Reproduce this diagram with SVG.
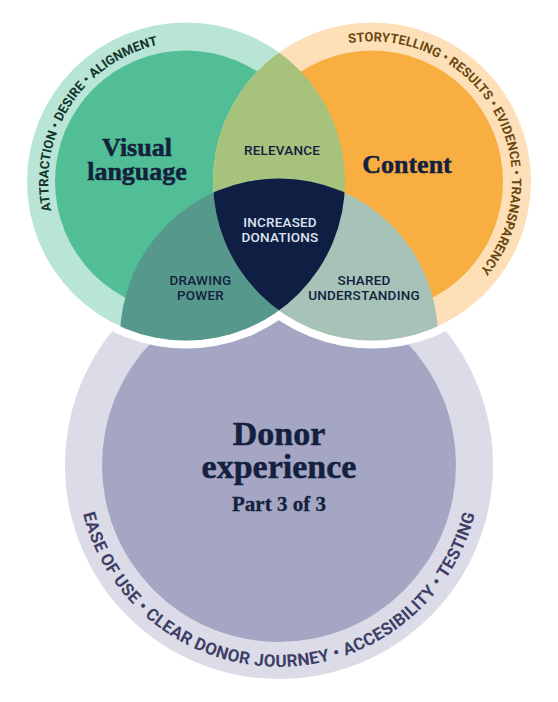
<svg xmlns="http://www.w3.org/2000/svg" width="558" height="702" viewBox="0 0 558 702">
<style>
.title{font-family:"Liberation Serif","Times New Roman",serif;font-weight:bold;fill:#13213f;stroke:#13213f;stroke-width:0.5px;text-anchor:middle}
.lbl{font-family:Roboto,"Liberation Sans",sans-serif;font-size:13.5px;font-weight:500;fill:#13213f;text-anchor:middle;letter-spacing:0.2px}
.ring{font-family:Roboto,"Liberation Sans",sans-serif;font-weight:bold;text-anchor:middle}
</style>
<defs>
<clipPath id="clipL"><circle cx="186" cy="181.5" r="159"/></clipPath>
<clipPath id="clipR"><circle cx="372" cy="181.5" r="159"/></clipPath>
<path id="arcL" d="M63.0,244.2 A140,140 0 0 1 193.3,41.7"/>
<path id="arcR" d="M324.1,49.9 A140,140 0 0 1 462.0,288.7"/>
<path id="arcB" d="M80.1,500.1 A202,202 0 0 0 477.9,500.1"/>
</defs>
<rect width="558" height="702" fill="#ffffff"/>

<g id="node-donor-experience">
<circle cx="279" cy="465" r="214" fill="#dcdce9"/>
<circle cx="279" cy="465" r="177" fill="#a5a6c4"/>
<text class="title" x="279" y="445" font-size="34">Donor</text>
<text class="title" x="279" y="478" font-size="34">experience</text>
<text class="title" x="279" y="511" font-size="21" style="stroke-width:0.3px">Part 3 of 3</text>
<text class="ring" font-size="17" fill="#3d3f66" letter-spacing="0.3"><textPath href="#arcB" startOffset="50%">EASE OF USE • CLEAR DONOR JOURNEY • ACCESIBILITY • TESTING</textPath></text>
</g>

<g id="white-gap">
<circle cx="186" cy="181.5" r="159" fill="#ffffff" stroke="#ffffff" stroke-width="16"/>
<circle cx="372" cy="181.5" r="159" fill="#ffffff" stroke="#ffffff" stroke-width="16"/>
</g>

<g id="node-visual-language">
<circle cx="186" cy="181.5" r="159" fill="#b8e5d6"/>
<circle cx="186" cy="181.5" r="131" fill="#51be95"/>
</g>
<g id="node-content">
<circle cx="372" cy="181.5" r="159" fill="#fde0b7"/>
<circle cx="372" cy="181.5" r="131" fill="#f8ae41"/>
</g>

<g id="node-relevance">
<g clip-path="url(#clipL)"><circle cx="372" cy="181.5" r="159" fill="#a6c27d"/></g>
<text class="lbl" x="282" y="155">RELEVANCE</text>
</g>
<g id="node-drawing-power">
<g clip-path="url(#clipL)"><circle cx="279" cy="337.5" r="159" fill="#56998c"/></g>
<text class="lbl" x="200.5" y="285">DRAWING</text>
<text class="lbl" x="200.5" y="300">POWER</text>
</g>
<g id="node-shared-understanding">
<g clip-path="url(#clipR)"><circle cx="279" cy="337.5" r="159" fill="#a7c3b7"/></g>
<text class="lbl" x="364" y="285">SHARED</text>
<text class="lbl" x="364" y="300">UNDERSTANDING</text>
</g>
<g id="node-increased-donations">
<g clip-path="url(#clipL)"><g clip-path="url(#clipR)"><circle cx="279" cy="337.5" r="159" fill="#0e1f43"/></g></g>
<text class="lbl" x="280" y="227" style="fill:#dfe3ef">INCREASED</text>
<text class="lbl" x="280" y="242" style="fill:#dfe3ef">DONATIONS</text>
</g>

<g id="labels-top">
<text class="title" x="137" y="156" font-size="26">Visual</text>
<text class="title" x="137" y="180" font-size="26">language</text>
<text class="title" x="407" y="173" font-size="26">Content</text>
<text class="ring" font-size="13" fill="#14352b"><textPath href="#arcL" startOffset="50%">ATTRACTION • DESIRE • ALIGNMENT</textPath></text>
<text class="ring" font-size="13" fill="#6a4812"><textPath href="#arcR" startOffset="50%">STORYTELLING • RESULTS • EVIDENCE • TRANSPARENCY</textPath></text>
</g>

<g id="connectors"/>
</svg>
